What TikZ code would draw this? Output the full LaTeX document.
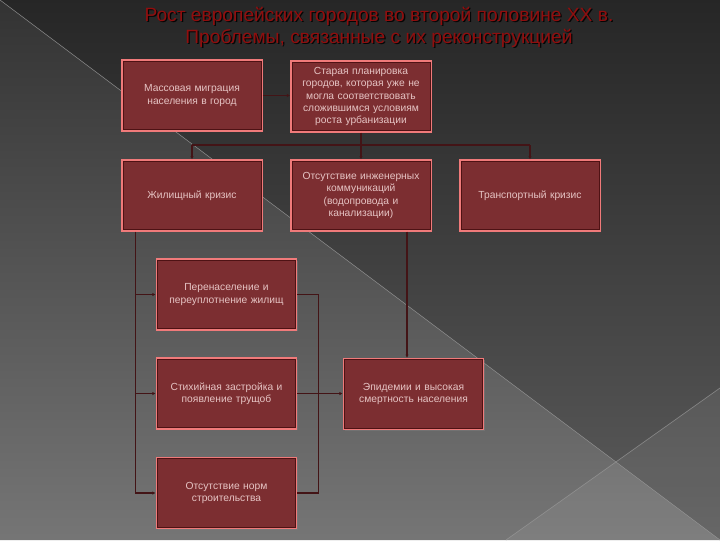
\documentclass[tikz,border=0pt]{standalone}
\usepackage{fontspec}
\setmainfont{Liberation Sans}
\usetikzlibrary{arrows.meta,calc,shadows}
\definecolor{boxfill}{HTML}{7C2E31}
\definecolor{boxedge}{HTML}{F07A7A}
\definecolor{boxdark}{HTML}{4E1214}
\definecolor{boxtext}{HTML}{E6C4C4}
\definecolor{conncol}{HTML}{431416}
\definecolor{titlecol}{HTML}{900E0E}
\tikzset{
  box/.style={rectangle, fill=boxfill, draw=boxedge, line width=1.1pt,
    minimum width=105pt, minimum height=53pt, text width=100pt, align=center,
    inner sep=0pt, text=boxtext, font=\fontsize{7.7}{9.2}\selectfont,
    drop shadow={shadow xshift=0.8pt, shadow yshift=-1.2pt, opacity=0.45}},
  conn/.style={draw=conncol, line width=0.85pt},
  arr/.style={conn, -{Latex[length=2.5pt,width=2.5pt]}},
  titletext/.style={font=\fontsize{14.4}{17}\selectfont, text=titlecol, inner sep=0pt},
}
\begin{document}
\begin{tikzpicture}[x=0.75pt,y=-0.75pt]
\useasboundingbox (0,0) rectangle (720,540);
% background
\shade[top color=black!85, bottom color=black!64] (0,0) -- (720,0) -- (720,540) -- cycle;
\shade[top color=black!80, bottom color=black!54] (0,0) -- (0,540) -- (720,540) -- cycle;
\fill[white, opacity=0.07] (506,540) -- (720,388) -- (720,540) -- cycle;
\draw[black!45, line width=0.5pt, opacity=0.7] (0,0) -- (720,540);
\draw[black!40, line width=0.5pt, opacity=0.7] (506,540) -- (720,388);
% title
\node[titletext, text=black, opacity=0.85] (t1s) at (380.3,17.3) {Рост европейских городов во второй половине XX в.};
\node[titletext] (t1) at (379,16) {Рост европейских городов во второй половине XX в.};
\node[titletext, text=black, opacity=0.85] (t2s) at (380.3,39.3) {Проблемы, связанные с их реконструкцией};
\node[titletext] (t2) at (379,38) {Проблемы, связанные с их реконструкцией};
% boxes
\node[box] (b1) at (192,95.5) {Массовая миграция\\населения в город};
\node[box] (b2) at (361,96.5) {Старая планировка\\городов, которая уже не\\могла соответствовать\\сложившимся условиям\\роста урбанизации};
\node[box] (b3) at (192,195.5) {Жилищный кризис};
\node[box] (b4) at (361,195.5) {Отсутствие инженерных\\коммуникаций\\(водопровода и\\канализации)};
\node[box] (b5) at (530,195.5) {Транспортный кризис};
\node[box] (b6) at (226.5,294.5) {Перенаселение и\\переуплотнение жилищ};
\node[box] (b7) at (226.5,393.5) {Стихийная застройка и\\появление трущоб};
\node[box] (b8) at (226.5,493) {Отсутствие норм\\строительства};
\node[box] (b9) at (413.5,394) {Эпидемии и высокая\\смертность населения};
\foreach \n in {b1,b2,b3,b4,b5,b6,b7,b8,b9}
  \draw[boxdark, line width=0.6pt] ($(\n.south west)+(1.8,-1.8)$) rectangle ($(\n.north east)+(-1.8,1.8)$);
% connectors
\draw[arr] (b1.east) -- (b1.east -| b2.west);
\coordinate (busT) at (361,145);
\draw[conn] (b2.south) -- (busT);
\draw[conn] (b3.north |- busT) -- (b5.north |- busT);
\draw[arr] (b3.north |- busT) -- (b3.north);
\draw[arr] (busT) -- (b4.north);
\draw[arr] (b5.north |- busT) -- (b5.north);
\coordinate (Ltop) at ($(b3.south west)+(14,0)$);
\draw[arr] (Ltop) -- (Ltop |- b8.west) -- (b8.west);
\draw[arr] (Ltop |- b6.west) -- (b6.west);
\draw[arr] (Ltop |- b7.west) -- (b7.west);
\coordinate (R6) at ($(b6.east)+(21,0)$);
\draw[conn] (b6.east) -- (R6) -- (R6 |- b8.east) -- (b8.east);
\draw[arr] (b7.east) -- (b7.east -| b9.west);
\coordinate (c49) at ($(b4.south)+(46,0)$);
\draw[arr] (c49) -- (c49 |- b9.north);
\end{tikzpicture}
\end{document}
